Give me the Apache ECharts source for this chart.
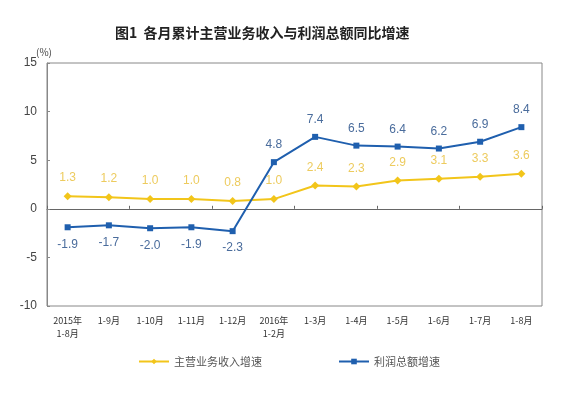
<!DOCTYPE html>
<html>
<head>
<meta charset="utf-8">
<script src="https://cdn.jsdelivr.net/npm/echarts@6/dist/echarts.min.js"></script>
<style>html,body{margin:0;padding:0;background:#fff}#c{width:580px;height:394px}</style>
</head>
<body>
<div id="c"></div>
<script>
const categories = ["2015年\n1-8月","1-9月","1-10月","1-11月","1-12月","2016年\n1-2月","1-3月","1-4月","1-5月","1-6月","1-7月","1-8月"];
const revenueGrowth = [1.3,1.2,1.0,1.0,0.8,1.0,2.4,2.3,2.9,3.1,3.3,3.6];
const profitGrowth = [-1.9,-1.7,-2.0,-1.9,-2.3,4.8,7.4,6.5,6.4,6.2,6.9,8.4];
const yTicks = [-10,-5,0,5,10,15];
const seriesNames = ["主营业务收入增速","利润总额增速"];

const chart = echarts.init(document.getElementById('c'));
const font = '"Noto Sans CJK SC", "Microsoft YaHei", sans-serif';
chart.setOption({
  animation:false,
  backgroundColor:'#fff',
  title:{text:'图1  各月累计主营业务收入与利润总额同比增速',left:110,top:21,
    textStyle:{fontFamily:font,fontSize:14,fontWeight:'bold',color:'#222'}},
  legend:{top:351,left:133,itemGap:76,itemWidth:30,itemHeight:7,
    textStyle:{fontFamily:font,fontSize:11,color:'#555'},
    data:[seriesNames[0],seriesNames[1]]},
  grid:{left:47,right:38,top:63,bottom:88,show:true,borderColor:'#888',borderWidth:1,containLabel:false},
  xAxis:[{
    type:'category',data:categories,position:'bottom',
    axisLine:{show:false,onZero:false},axisTick:{show:false},
    axisLabel:{fontFamily:'SimSun, "Noto Sans CJK SC", sans-serif',fontSize:9,color:'#333',margin:8,interval:0,lineHeight:13}
  },{
    type:'category',data:categories,position:'top',
    axisLine:{show:true,onZero:true,lineStyle:{color:'#666',width:1}},
    axisTick:{show:true,length:3,lineStyle:{color:'#666'}},
    axisLabel:{show:false}
  }],
  yAxis:{type:'value',min:yTicks[0],max:yTicks[yTicks.length-1],interval:5,
    name:'(%)',nameLocation:'end',nameGap:4,nameTextStyle:{fontFamily:font,fontSize:10,color:'#444',align:'right',padding:[0,-5,0,0]},
    axisLine:{show:true,lineStyle:{color:'#888'}},axisTick:{show:true,inside:true,length:3,lineStyle:{color:'#888'}},
    splitLine:{show:false},
    axisLabel:{fontFamily:'Arial, "Liberation Sans", sans-serif',fontSize:12,color:'#444',margin:10}},
  series:[{
    name:seriesNames[0],type:'line',data:revenueGrowth,
    symbol:'diamond',symbolSize:8,
    lineStyle:{color:'#F2C51A',width:2},itemStyle:{color:'#F2C51A'},
    label:{show:true,position:'top',distance:8,formatter:p=>p.value.toFixed(1),
      fontFamily:'Arial, "Liberation Sans", sans-serif',fontSize:12,color:'#EDCB5E'}
  },{
    name:seriesNames[1],type:'line',
    data:profitGrowth.map(v=>({value:v,label:{position:v<0?'bottom':'top'}})),
    symbol:'rect',symbolSize:6,
    lineStyle:{color:'#1F5FAE',width:2},itemStyle:{color:'#1F5FAE'},
    label:{show:true,distance:8,formatter:p=>p.value.toFixed(1),
      fontFamily:'Arial, "Liberation Sans", sans-serif',fontSize:12,color:'#4A6C9C'}
  }]
});
</script>
</body>
</html>
